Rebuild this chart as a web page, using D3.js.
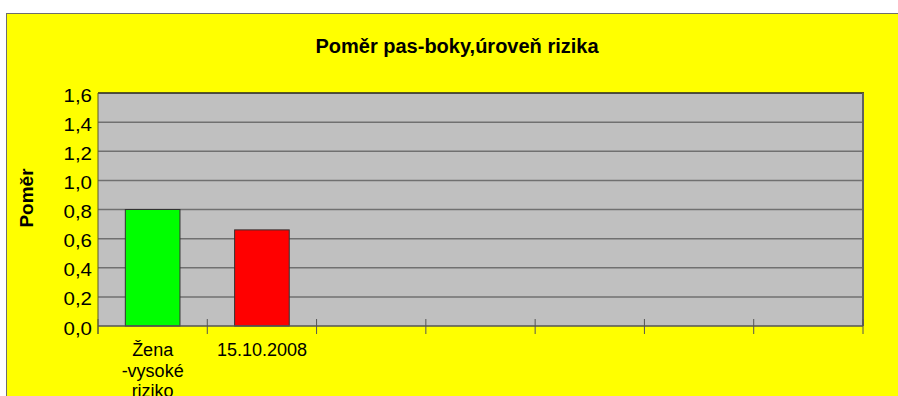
<!DOCTYPE html>
<html>
<head>
<meta charset="utf-8">
<script src="https://cdn.jsdelivr.net/npm/d3@7/dist/d3.min.js"></script>
<style>
  html, body { margin: 0; padding: 0; background: #fff; }
  svg { display: block; font-family: "Liberation Sans", Arial, sans-serif; }
</style>
</head>
<body>
<svg id="chart" width="898" height="396"></svg>
<script>
// Chart data
const title = "Poměr pas-boky,úroveň rizika";
const yTitle = "Poměr";
const categories = ["Žena -vysoké riziko", "15.10.2008", "", "", "", "", ""];
const values = [0.8, 0.66, null, null, null, null, null];
const barColors = ["#00ff00", "#ff0000", null, null, null, null, null];
const yTicks = [0, 0.2, 0.4, 0.6, 0.8, 1.0, 1.2, 1.4, 1.6];

const svg = d3.select("#chart");
const W = 898, H = 396;
const plot = { left: 98, right: 863, top: 93, bottom: 326 };

// Chart background panel
svg.append("rect")
  .attr("x", 6.5).attr("y", 13.5)
  .attr("width", W + 20).attr("height", H + 20)
  .attr("fill", "#ffff00")
  .attr("stroke", "#6e6e6e").attr("stroke-width", 1);

// Scales
const x = d3.scaleBand()
  .domain(d3.range(categories.length))
  .range([plot.left, plot.right])
  .paddingInner(0.5)
  .paddingOuter(0.25);
const step = x.step();
const y = d3.scaleLinear().domain([0, 1.6]).range([plot.bottom, plot.top]);

// Plot area
svg.append("rect")
  .attr("x", plot.left).attr("y", plot.top)
  .attr("width", plot.right - plot.left).attr("height", plot.bottom - plot.top)
  .attr("fill", "#c0c0c0");

// Horizontal gridlines
svg.append("g")
  .selectAll("line")
  .data(yTicks.filter(d => d > 0 && d < 1.6))
  .join("line")
  .attr("x1", plot.left).attr("x2", plot.right)
  .attr("y1", d => y(d)).attr("y2", d => y(d))
  .attr("stroke", "#707070").attr("stroke-width", 1.5);

// Plot frame: top and right edges
svg.append("line")
  .attr("x1", plot.left).attr("x2", plot.right + 1)
  .attr("y1", plot.top).attr("y2", plot.top)
  .attr("stroke", "#222").attr("stroke-width", 1.5);
svg.append("line")
  .attr("x1", plot.right).attr("x2", plot.right)
  .attr("y1", plot.top).attr("y2", plot.bottom)
  .attr("stroke", "#606060").attr("stroke-width", 2);

// Bars
svg.append("g")
  .selectAll("rect")
  .data(values.map((v, i) => ({ v, i })).filter(d => d.v != null))
  .join("rect")
  .attr("x", d => x(d.i))
  .attr("y", d => y(d.v))
  .attr("width", x.bandwidth())
  .attr("height", d => y(0) - y(d.v))
  .attr("fill", d => barColors[d.i])
  .attr("stroke", "#333").attr("stroke-width", 1);

// X axis line and category boundary ticks
svg.append("line")
  .attr("x1", plot.left).attr("x2", plot.right)
  .attr("y1", plot.bottom).attr("y2", plot.bottom)
  .attr("stroke", "#555").attr("stroke-width", 1.5);
const boundaries = d3.range(categories.length + 1).map(i => plot.left + i * step);
svg.append("g")
  .selectAll("line")
  .data(boundaries)
  .join("line")
  .attr("x1", d => d).attr("x2", d => d)
  .attr("y1", plot.bottom - 7).attr("y2", plot.bottom + 8)
  .attr("stroke", "#555").attr("stroke-width", 1);

// Y axis line
svg.append("line")
  .attr("x1", plot.left).attr("x2", plot.left)
  .attr("y1", plot.top).attr("y2", plot.bottom + 8)
  .attr("stroke", "#5a5a20").attr("stroke-width", 1);

// Y tick labels (slightly widened face)
const fmt = d => d3.format(".1f")(d).replace(".", ",");
svg.append("g")
  .selectAll("text")
  .data(yTicks)
  .join("text")
  .attr("transform", d => `translate(92,${y(d) + 8.5}) scale(1.17,1)`)
  .attr("text-anchor", "end")
  .attr("font-size", 17.5)
  .attr("fill", "#000")
  .text(fmt);

// Category labels, wrapped word by word
const catG = svg.append("g")
  .attr("font-size", 18)
  .attr("text-anchor", "middle");
categories.forEach((c, i) => {
  if (!c) return;
  const words = c.split(" ");
  const lines = i === 0 ? words : [c];
  const t = catG.append("text")
    .attr("x", x(i) + x.bandwidth() / 2)
    .attr("y", 356);
  lines.forEach((ln, k) => {
    t.append("tspan")
      .attr("x", x(i) + x.bandwidth() / 2)
      .attr("dy", k === 0 ? 0 : 20.5)
      .text(ln);
  });
});

// Titles
svg.append("text")
  .attr("x", 457).attr("y", 53)
  .attr("text-anchor", "middle")
  .attr("font-size", 20).attr("font-weight", "bold")
  .text(title);
svg.append("text")
  .attr("transform", "translate(33,198) rotate(-90)")
  .attr("text-anchor", "middle")
  .attr("font-size", 19).attr("font-weight", "bold")
  .text(yTitle);
</script>
</body>
</html>
